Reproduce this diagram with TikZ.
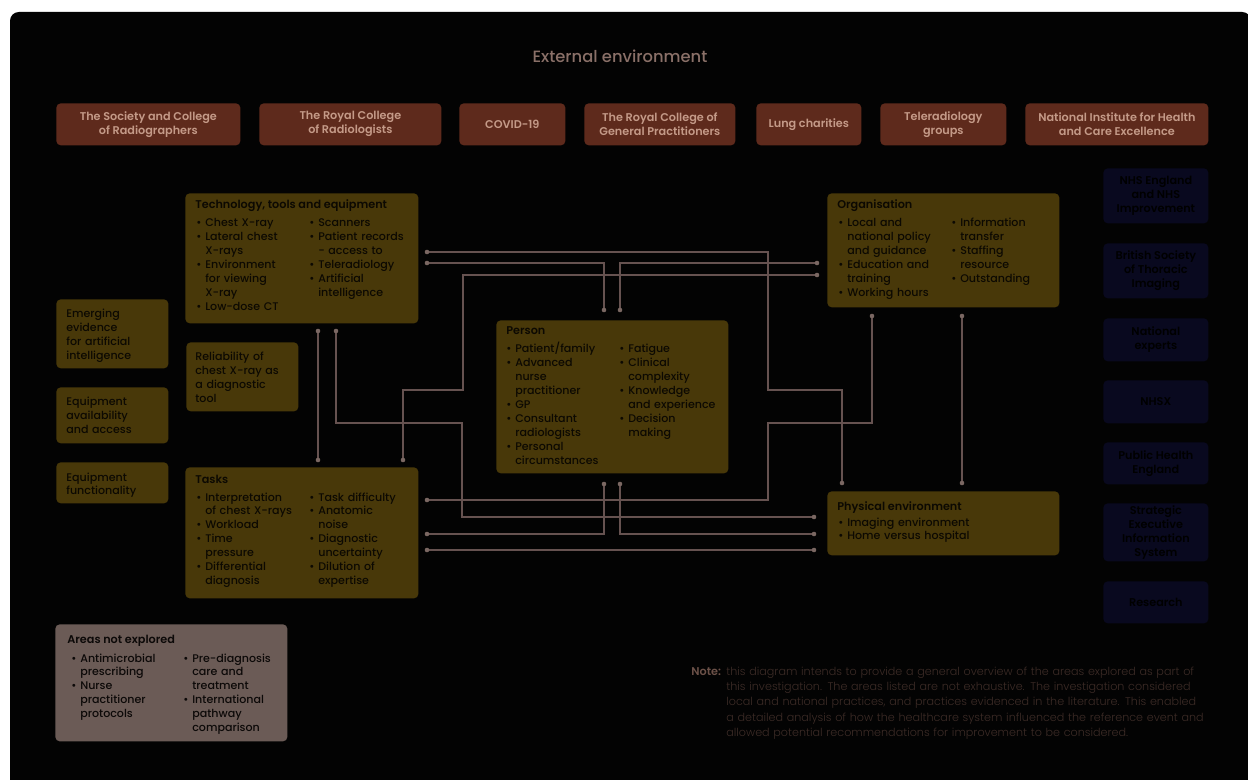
\documentclass[tikz,border=0pt]{standalone}
\usepackage{fontspec}
\setmainfont{Poppins}[UprightFont={* Medium}, BoldFont={* SemiBold}]
\newfontfamily\lightf{Poppins Light}
\newdimen\pxu \pxu=0.5669pt
\definecolor{bgc}{HTML}{030303}
\definecolor{redbox}{HTML}{5E2A1C}
\definecolor{redtxt}{HTML}{C49A88}
\definecolor{olbox}{HTML}{483809}
\definecolor{oltxt}{HTML}{0C0902}
\definecolor{greybox}{HTML}{6B5B56}
\definecolor{greytxt}{HTML}{0C0908}
\definecolor{bluebox}{HTML}{09091F}
\definecolor{bluetxt}{HTML}{000000}
\definecolor{linec}{HTML}{665250}
\definecolor{dotc}{HTML}{7A6762}
\definecolor{titlec}{HTML}{8A7068}
\definecolor{notebold}{HTML}{6C5148}
\definecolor{notetxt}{HTML}{3C2B26}
\newcommand\bitem[1]{\noindent\hangindent=9\pxu\hangafter=1\makebox[9\pxu][l]{\textbullet}#1\par}
\newcommand\bx[6]{\node[#1, minimum width={(#4-#2)*0.02cm}, minimum height={(#5-#3)*0.02cm}] (#6) at (#2,#3) {};}
\tikzset{
  boxbase/.style={rounded corners=2.5pt, inner sep=0pt, anchor=north west, draw=none},
  redb/.style={boxbase, fill=redbox},
  olb/.style={boxbase, fill=olbox},
  greyb/.style={boxbase, fill=greybox},
  blueb/.style={boxbase, fill=bluebox},
  redt/.style={text=redtxt, align=center, inner sep=0pt, font=\bfseries\fontsize{6.4}{7.94}\selectfont},
  bluet/.style={text=bluetxt, align=center, inner sep=0pt, font=\bfseries\fontsize{6.4}{7.94}\selectfont},
  ttl/.style={anchor=base west, inner sep=0pt, text=oltxt, font=\bfseries\fontsize{6.4}{7.94}\selectfont},
  lst/.style={anchor=base west, inner sep=0pt, text=oltxt, align=left, font=\fontsize{6.3}{7.94}\selectfont},
  conn/.style={draw=linec, line width=0.6pt},
}
\begin{document}
\begin{tikzpicture}[x=0.02cm,y=-0.02cm]
\useasboundingbox (0,0) rectangle (1248,780);
\clip (0,0) rectangle (1248,780);
\fill[white] (0,0) rectangle (1248,780);
\fill[bgc, rounded corners=5pt] (10,12) rectangle (1251,800);

\node[text=titlec, font=\fontsize{9.3}{11}\selectfont] (title) at (620,56) {External environment};

% top external boxes
\bx{redb}{56}{103}{240}{145}{e1}
\bx{redb}{259}{103}{441}{145}{e2}
\bx{redb}{459}{103}{565}{145}{e3}
\bx{redb}{584}{103}{735}{145}{e4}
\bx{redb}{756}{103}{861}{145}{e5}
\bx{redb}{880}{103}{1006}{145}{e6}
\bx{redb}{1025}{103}{1208}{145}{e7}
\node[redt] (e1t) at (e1.center) {The Society and College\\of Radiographers};
\node[redt] (e2t) at (e2.center) {The Royal College\\of Radiologists};
\node[redt] (e3t) at (e3.center) {COVID-19};
\node[redt] (e4t) at (e4.center) {The Royal College of\\General Practitioners};
\node[redt] (e5t) at (e5.center) {Lung charities};
\node[redt] (e6t) at (e6.center) {Teleradiology\\groups};
\node[redt] (e7t) at (e7.center) {National Institute for Health\\and Care Excellence};

% right blue boxes
\bx{blueb}{1103}{168}{1208}{223}{b1}
\bx{blueb}{1103}{243}{1208}{298}{b2}
\bx{blueb}{1103}{318}{1208}{361}{b3}
\bx{blueb}{1103}{380}{1208}{423}{b4}
\bx{blueb}{1103}{442}{1208}{484}{b5}
\bx{blueb}{1103}{503}{1208}{561}{b6}
\bx{blueb}{1103}{581}{1208}{623}{b7}
\node[bluet] (b1t) at (b1.center) {NHS England\\and NHS\\Improvement};
\node[bluet] (b2t) at (b2.center) {British Society\\of Thoracic\\Imaging};
\node[bluet] (b3t) at (b3.center) {National\\experts};
\node[bluet] (b4t) at (b4.center) {NHSX};
\node[bluet] (b5t) at (b5.center) {Public Health\\England};
\node[bluet] (b6t) at (b6.center) {Strategic\\Executive\\Information\\System};
\node[bluet] (b7t) at (b7.center) {Research};

% olive boxes
\bx{olb}{185}{193}{418}{323}{tech}
\bx{olb}{827}{193}{1059}{307}{org}
\bx{olb}{496}{320}{728}{473}{pers}
\bx{olb}{185}{467}{418}{598}{task}
\bx{olb}{827}{491}{1059}{555}{phys}
\bx{olb}{56}{299}{168}{368}{emer}
\bx{olb}{56}{387}{168}{443}{avail}
\bx{olb}{56}{462}{168}{503}{func}
\bx{olb}{186}{342}{298}{411}{rel}
\bx{greyb}{55}{624}{287}{741}{areas}

% technology
\node[ttl] (techT) at (195,209) {Technology, tools and equipment};
\node[lst, text width=109\pxu] (techA) at (196,227) {\bitem{Chest X-ray}\bitem{Lateral chest\newline X-rays}\bitem{Environment\newline for viewing\newline X-ray}\bitem{Low-dose CT}};
\node[lst, text width=109\pxu] (techB) at (309,227) {\bitem{Scanners}\bitem{Patient records\newline - access to}\bitem{Teleradiology}\bitem{Artificial\newline intelligence}};

% organisation
\node[ttl] (orgT) at (837,209) {Organisation};
\node[lst, text width=112\pxu] (orgA) at (838,227) {\bitem{Local and\newline national policy\newline and guidance}\bitem{Education and\newline training}\bitem{Working hours}};
\node[lst, text width=105\pxu] (orgB) at (951,227) {\bitem{Information\newline transfer}\bitem{Staffing\newline resource}\bitem{Outstanding}};

% person
\node[ttl] (persT) at (506,335) {Person};
\node[lst, text width=112\pxu] (persA) at (506,353) {\bitem{Patient/family}\bitem{Advanced\newline nurse\newline practitioner}\bitem{GP}\bitem{Consultant\newline radiologists}\bitem{Personal\newline circumstances}};
\node[lst, text width=108\pxu] (persB) at (619,353) {\bitem{Fatigue}\bitem{Clinical\newline complexity}\bitem{Knowledge\newline and experience}\bitem{Decision\newline making}};

% tasks
\node[ttl] (taskT) at (195,483) {Tasks};
\node[lst, text width=112\pxu] (taskA) at (196,501) {\bitem{Interpretation\newline of chest X-rays}\bitem{Workload}\bitem{Time\newline pressure}\bitem{Differential\newline diagnosis}};
\node[lst, text width=108\pxu] (taskB) at (309,501) {\bitem{Task difficulty}\bitem{Anatomic\newline noise}\bitem{Diagnostic\newline uncertainty}\bitem{Dilution of\newline expertise}};

% physical environment
\node[ttl] (physT) at (837,511) {Physical environment};
\node[lst, text width=210\pxu] (physA) at (838,526) {\bitem{Imaging environment}\bitem{Home versus hospital}};

% small boxes
\node[lst, text width=100\pxu] (emerT) at (66,318) {Emerging\newline evidence\newline for artificial\newline intelligence};
\node[lst, text width=100\pxu] (availT) at (66,406) {Equipment\newline availability\newline and access};
\node[lst, text width=100\pxu] (funcT) at (66,481) {Equipment\newline functionality};
\node[lst, text width=100\pxu] (relT) at (195,361) {Reliability of\newline chest X-ray as\newline a diagnostic\newline tool};

% areas not explored
\node[ttl, text=greytxt] (areasT) at (67,643) {Areas not explored};
\node[lst, text=greytxt, text width=112\pxu] (areasA) at (71,662) {\bitem{Antimicrobial\newline prescribing}\bitem{Nurse\newline practitioner\newline protocols}};
\node[lst, text=greytxt, text width=100\pxu] (areasB) at (183,662) {\bitem{Pre-diagnosis\newline care and\newline treatment}\bitem{International\newline pathway\newline comparison}};

% note
\node[anchor=base west, inner sep=0pt, text=notebold, font=\bfseries\fontsize{6.4}{8.8}\selectfont] (noteT) at (691,675) {Note:};
\node[anchor=base west, inner sep=0pt, text=notetxt, align=left, text width=500\pxu, font=\lightf\fontsize{6.35}{8.8}\selectfont] (noteB) at (726,675) {this diagram intends to provide a general overview of the areas explored as part of\newline this investigation. The areas listed are not exhaustive. The investigation considered\newline local and national practices, and practices evidenced in the literature. This enabled\newline a detailed analysis of how the healthcare system influenced the reference event and\newline allowed potential recommendations for improvement to be considered.};

% connector end points
\coordinate (tR1) at (427,252);
\coordinate (tR2) at (427,263);
\coordinate (oL1) at (817,263);
\coordinate (oL2) at (817,275);
\coordinate (tB1) at (318,331);
\coordinate (tB2) at (336,331);
\coordinate (kT1) at (318,460);
\coordinate (kT2) at (403,460);
\coordinate (pT1) at (604,310);
\coordinate (pT2) at (620,310);
\coordinate (pB1) at (604,484);
\coordinate (pB2) at (620,484);
\coordinate (kR1) at (427,500);
\coordinate (kR2) at (427,534);
\coordinate (kR3) at (427,550);
\coordinate (oB1) at (872,316);
\coordinate (oB2) at (962,316);
\coordinate (hT1) at (842,483);
\coordinate (hT2) at (962,483);
\coordinate (hL1) at (814,517);
\coordinate (hL2) at (814,534);
\coordinate (hL3) at (814,550);

\draw[conn] (tR1) -| (768,390) -| (hT1);
\draw[conn] (tR2) -| (pT1);
\draw[conn] (oL1) -| (pT2);
\draw[conn] (oL2) -| (463,390) -| (kT2);
\draw[conn] (tB1) -- (kT1);
\draw[conn] (tB2) |- (462,423) |- (hL1);
\draw[conn] (kR1) -| (768,423) -| (oB1);
\draw[conn] (oB2) -- (hT2);
\draw[conn] (kR2) -| (pB1);
\draw[conn] (pB2) |- (hL2);
\draw[conn] (kR3) -- (hL3);
\foreach \c in {tR1,tR2,oL1,oL2,tB1,tB2,kT1,kT2,pT1,pT2,pB1,pB2,kR1,kR2,kR3,oB1,oB2,hT1,hT2,hL1,hL2,hL3}
  \fill[dotc] (\c) circle[radius=1.3pt];
\end{tikzpicture}
\end{document}
